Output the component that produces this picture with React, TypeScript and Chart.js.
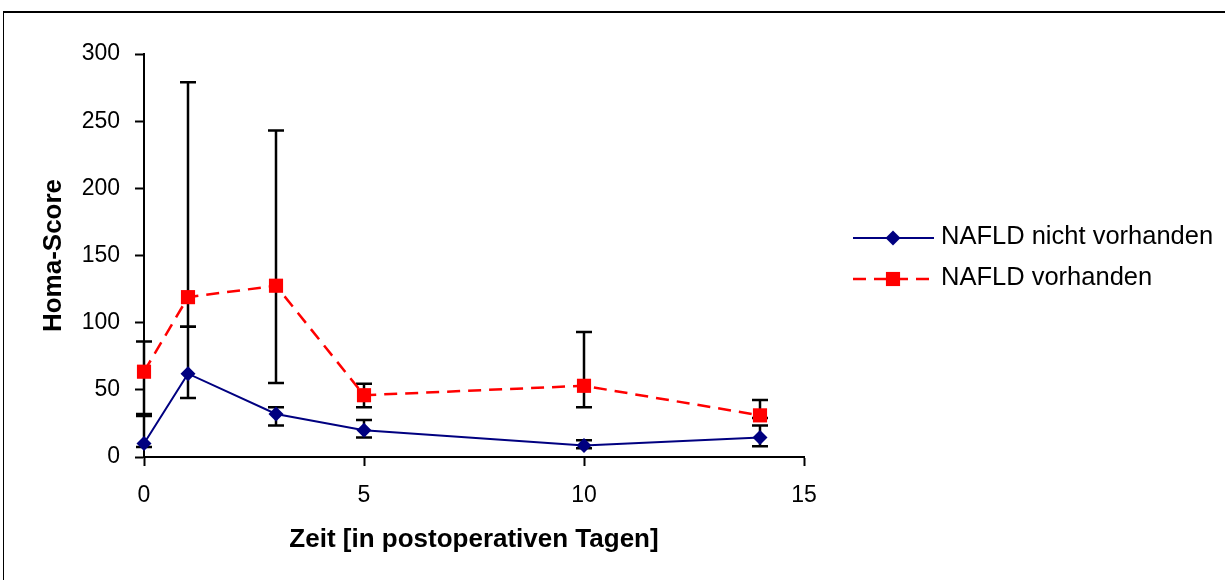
import { useEffect, useRef } from "react";
import { Chart, registerables } from "chart.js";

Chart.register(...registerables);

// ---- data ----
const days = [0, 1, 3, 5, 10, 14];
const seriesLabels = ["NAFLD nicht vorhanden", "NAFLD vorhanden"];
const nichtValues = [10, 62, 32, 20, 8.5, 14.5];
const nichtLow = [7.5, 44, 23.5, 14.5, 6.5, 8];
const nichtHigh = [30.5, 97, 37, 27.5, 12.5, 23.5];
const vorhValues = [63.5, 119, 127.5, 46, 53, 31];
const vorhLow = [32, 97, 55, 37, 37, 29];
const vorhHigh = [86, 279, 243, 54.5, 93, 42.5];
const xTickStep = 5;
const yTickStep = 50;
const xTitle = "Zeit [in postoperativen Tagen]";
const yTitle = "Homa-Score";

const FONT = "'Liberation Sans', Arial, sans-serif";
const BLUE = "#000080";
const RED = "#FF0000";

const framePlugin = {
  id: "frame",
  beforeDraw(chart: any) {
    const ctx = chart.ctx;
    ctx.save();
    ctx.fillStyle = "#fff";
    ctx.fillRect(0, 0, chart.width, chart.height);
    ctx.fillStyle = "#000";
    ctx.fillRect(3, 11, chart.width, 2);
    ctx.fillRect(3, 11, 1, chart.height);
    ctx.restore();
  },
};

const errorBarPlugin = {
  id: "errorBars",
  beforeDatasetsDraw(chart: any) {
    const ctx = chart.ctx;
    const xs = chart.scales.x;
    const ys = chart.scales.y;
    ctx.save();
    ctx.strokeStyle = "#000";
    ctx.lineWidth = 2.5;
    chart.data.datasets.forEach((ds: any) => {
      const lows: number[] = ds.errLow;
      const highs: number[] = ds.errHigh;
      ds.data.forEach((pt: any, i: number) => {
        const px = xs.getPixelForValue(pt.x);
        const yl = ys.getPixelForValue(lows[i]);
        const yh = ys.getPixelForValue(highs[i]);
        ctx.beginPath();
        ctx.moveTo(px, yl);
        ctx.lineTo(px, yh);
        ctx.moveTo(px - 8, yl);
        ctx.lineTo(px + 8, yl);
        ctx.moveTo(px - 8, yh);
        ctx.lineTo(px + 8, yh);
        ctx.stroke();
      });
    });
    ctx.restore();
  },
};

const legendPlugin = {
  id: "customLegend",
  afterDraw(chart: any) {
    const ctx = chart.ctx;
    const rows = [
      { y: 238, base: 244 },
      { y: 279, base: 285 },
    ];
    ctx.save();
    chart.data.datasets.forEach((ds: any, i: number) => {
      const r = rows[i];
      ctx.strokeStyle = ds.borderColor;
      ctx.lineWidth = ds.borderWidth;
      ctx.setLineDash(ds.borderDash || []);
      ctx.beginPath();
      ctx.moveTo(853, r.y);
      ctx.lineTo(934, r.y);
      ctx.stroke();
      ctx.setLineDash([]);
      ctx.fillStyle = ds.pointBackgroundColor;
      const cx = 893;
      if (ds.pointStyle === "rectRot") {
        const s = ds.pointRadius;
        ctx.beginPath();
        ctx.moveTo(cx - s, r.y);
        ctx.lineTo(cx, r.y - s);
        ctx.lineTo(cx + s, r.y);
        ctx.lineTo(cx, r.y + s);
        ctx.closePath();
        ctx.fill();
      } else {
        const h = ds.pointRadius * Math.SQRT1_2;
        ctx.fillRect(cx - h, r.y - h, 2 * h, 2 * h);
      }
      ctx.fillStyle = "#000";
      ctx.font = `25.5px ${FONT}`;
      ctx.textAlign = "left";
      ctx.textBaseline = "alphabetic";
      ctx.fillText(ds.label, 941, r.base);
    });
    ctx.restore();
  },
};

export default function App() {
  const ref = useRef<HTMLCanvasElement | null>(null);

  useEffect(() => {
    document.body.style.margin = "0";
    const canvas = ref.current;
    if (!canvas) return;
    Chart.defaults.font.family = FONT;
    const chart = new Chart(canvas, {
      type: "line",
      data: {
        datasets: [
          {
            label: seriesLabels[0],
            data: days.map((d, i) => ({ x: d, y: nichtValues[i] })),
            borderColor: BLUE,
            backgroundColor: BLUE,
            borderWidth: 2,
            pointStyle: "rectRot",
            pointRadius: 7.5,
            pointBackgroundColor: BLUE,
            pointBorderColor: BLUE,
            pointBorderWidth: 0,
            tension: 0,
            clip: false,
            errLow: nichtLow,
            errHigh: nichtHigh,
          } as any,
          {
            label: seriesLabels[1],
            data: days.map((d, i) => ({ x: d, y: vorhValues[i] })),
            borderColor: RED,
            backgroundColor: RED,
            borderWidth: 2.5,
            borderDash: [13, 8],
            pointStyle: "rect",
            pointRadius: 10,
            pointBackgroundColor: RED,
            pointBorderColor: RED,
            pointBorderWidth: 0,
            tension: 0,
            clip: false,
            errLow: vorhLow,
            errHigh: vorhHigh,
          } as any,
        ],
      },
      options: {
        animation: false,
        responsive: false,
        devicePixelRatio: 1,
        layout: { padding: { left: 0, top: 54, right: 421, bottom: 0 } },
        plugins: {
          legend: { display: false },
          tooltip: { enabled: false },
          title: { display: false },
        },
        scales: {
          x: {
            type: "linear",
            min: 0,
            max: 15,
            afterFit(scale: any) {
              scale.height = 123;
            },
            ticks: {
              stepSize: xTickStep,
              color: "#000",
              font: { size: 23 },
              padding: 16,
              maxRotation: 0,
            },
            grid: {
              drawOnChartArea: false,
              drawTicks: true,
              tickLength: 9,
              tickColor: "#000",
              tickWidth: 2,
            },
            border: { display: true, color: "#000", width: 2 },
            title: {
              display: true,
              text: xTitle,
              color: "#000",
              font: { size: 26, weight: "bold" },
              padding: { top: 0, bottom: 25 },
            },
          },
          y: {
            type: "linear",
            min: 0,
            max: 300,
            afterFit(scale: any) {
              scale.width = 144;
            },
            ticks: {
              stepSize: yTickStep,
              color: "#000",
              font: { size: 23 },
              padding: 15,
            },
            grid: {
              drawOnChartArea: false,
              drawTicks: true,
              tickLength: 9,
              tickColor: "#000",
              tickWidth: 2,
            },
            border: { display: true, color: "#000", width: 2 },
            title: {
              display: true,
              text: yTitle,
              color: "#000",
              font: { size: 26, weight: "bold" },
              padding: { top: 38, bottom: 0 },
            },
          },
        },
      } as any,
      plugins: [framePlugin, errorBarPlugin, legendPlugin],
    });
    return () => chart.destroy();
  }, []);

  return (
    <div style={{ position: "absolute", left: 0, top: 0, width: 1225, height: 580 }}>
      <canvas ref={ref} width={1225} height={580} style={{ width: 1225, height: 580, display: "block" }} />
    </div>
  );
}
